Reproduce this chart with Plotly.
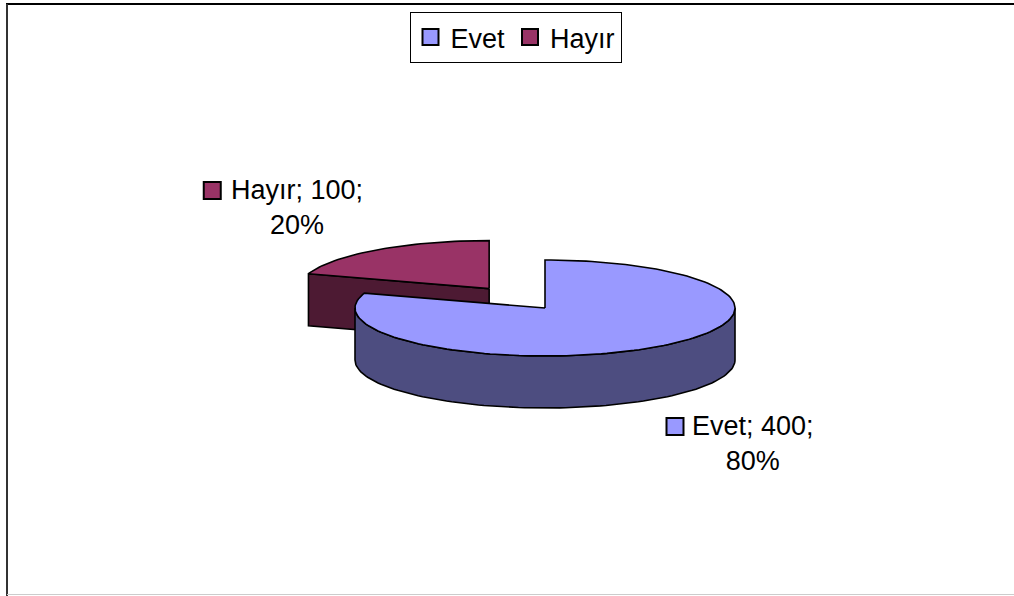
import math
import plotly.graph_objects as go

# ---- data ----
categories = ["Evet", "Hayır"]
values = [400, 100]
top_colors = ["#9999FF", "#993366"]
side_colors = ["#4D4D80", "#4D1A33"]
explode = [0.0, 0.5]

# ---- geometry / layout constants (pixels) ----
W, H = 1014, 596
CX, CY = 545, 308        # pie center (top face)
A, B = 190, 48           # ellipse semi-axes
D = 52                   # depth of the pie
FONT = "Liberation Sans, Arial, sans-serif"
FS = 27
N = 200

total = sum(values)
fracs = [v / total for v in values]


def pt(cx, cy, t):
    return cx + A * math.sin(t), cy - B * math.cos(t)


def arc(cx, cy, t0, t1, dy=0.0):
    n = max(2, int(N * abs(t1 - t0) / (2 * math.pi)) + 2)
    xs, ys = [], []
    for i in range(n):
        t = t0 + (t1 - t0) * i / (n - 1)
        x, y = pt(cx, cy, t)
        xs.append(x)
        ys.append(y + dy)
    return xs, ys


slices = []
cum = 0.0
for i, f in enumerate(fracs):
    t0 = cum * 2 * math.pi
    t1 = (cum + f) * 2 * math.pi
    tm = (t0 + t1) / 2
    cx = CX + explode[i] * A * math.sin(tm)
    cy = CY - explode[i] * B * math.cos(tm)
    slices.append(dict(i=i, t0=t0, t1=t1, cx=cx, cy=cy))
    cum += f

fig = go.Figure()


def poly(xs, ys, color):
    fig.add_trace(go.Scatter(
        x=xs + [xs[0]], y=ys + [ys[0]], mode="lines", fill="toself",
        fillcolor=color, line=dict(color="black", width=1.6),
        hoverinfo="skip", showlegend=False))


# draw back slices first
for s in sorted(slices, key=lambda s: s["cy"]):
    i, t0, t1, cx, cy = s["i"], s["t0"], s["t1"], s["cx"], s["cy"]
    # radial face at t0
    if math.sin(t0) < -1e-6:
        x0, y0 = pt(cx, cy, t0)
        poly([cx, x0, x0, cx], [cy, y0, y0 + D, cy + D], side_colors[i])
    # radial face at t1
    if math.sin(t1) > 1e-6:
        x1, y1 = pt(cx, cy, t1)
        poly([cx, x1, x1, cx], [cy, y1, y1 + D, cy + D], side_colors[i])
    # outer rim (front visible part)
    a0 = max(t0, math.pi / 2)
    a1 = min(t1, 3 * math.pi / 2)
    if a1 > a0:
        tx, ty = arc(cx, cy, a0, a1)
        bx, by = arc(cx, cy, a0, a1, D)
        poly(tx + bx[::-1], ty + by[::-1], side_colors[i])
    # top face
    ax, ay = arc(cx, cy, t0, t1)
    poly([cx] + ax, [cy] + ay, top_colors[i])

# legend entries
for i, c in enumerate(categories):
    fig.add_trace(go.Scatter(
        x=[None], y=[None], mode="markers", name=c,
        marker=dict(symbol="square", size=17, color=top_colors[i],
                    line=dict(color="black", width=2))))

# data labels
label_pos = {"Evet": (753, 443), "Hayır": (297, 207)}
for i, c in enumerate(categories):
    lx, ly = label_pos[c]
    line1 = f"{c}; {values[i]};"
    pct = f"{round(fracs[i] * 100)}%"
    fig.add_annotation(x=lx, y=ly, xref="x", yref="y", text=line1 + "<br>" + pct,
                       showarrow=False, align="center", xanchor="center", yanchor="middle",
                       font=dict(family=FONT, size=FS, color="black"))
    # legend key next to the first line
    est_w = len(line1) * FS * 0.5
    fig.add_trace(go.Scatter(
        x=[lx - est_w / 2 - 10.5], y=[ly - 16.5], mode="markers",
        marker=dict(symbol="square", size=17, color=top_colors[i],
                    line=dict(color="black", width=2)),
        hoverinfo="skip", showlegend=False))

# chart border
fig.add_shape(type="line", x0=6, x1=W, y0=4, y1=4, xref="x", yref="y",
              line=dict(color="black", width=2))
fig.add_shape(type="line", x0=7, x1=7, y0=4, y1=H, xref="x", yref="y",
              line=dict(color="#333333", width=2))
fig.add_shape(type="line", x0=7, x1=W, y0=594.5, y1=594.5, xref="x", yref="y",
              line=dict(color="#cccccc", width=1))

fig.update_layout(
    width=W, height=H,
    margin=dict(l=0, r=0, t=0, b=0),
    paper_bgcolor="white", plot_bgcolor="white",
    xaxis=dict(range=[0, W], visible=False, fixedrange=True),
    yaxis=dict(range=[H, 0], visible=False, fixedrange=True),
    showlegend=True,
    legend=dict(orientation="h", x=515.5 / W, xanchor="center", y=1 - 12 / H, yanchor="top",
                bordercolor="black", borderwidth=1, bgcolor="white",
                font=dict(family=FONT, size=FS, color="black"),
                itemwidth=30, tracegroupgap=0),
    font=dict(family=FONT),
)

fig.write_html("out.html", post_script="document.body.style.margin='0';",
               config={"displayModeBar": False})
